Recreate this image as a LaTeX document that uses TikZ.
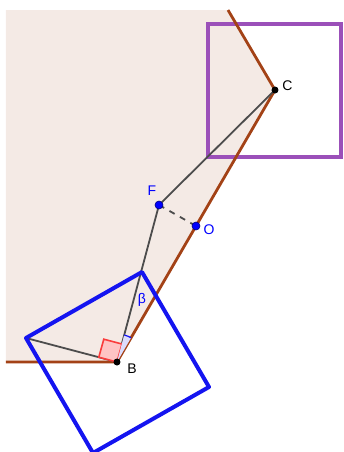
\documentclass[tikz,border=0pt]{standalone}
\usepackage{fontspec}
\setmainfont{Liberation Sans}
\usetikzlibrary{calc,angles}
\definecolor{paleshade}{RGB}{244,234,229}
\definecolor{rust}{RGB}{163,66,22}
\definecolor{purp}{RGB}{155,80,185}
\definecolor{sqblue}{RGB}{20,20,240}
\definecolor{rmark}{RGB}{250,60,60}

\begin{document}
\begin{tikzpicture}[x=0.5pt,y=-0.5pt,every node/.style={font=\fontsize{7}{8}\selectfont},
	dot/.style={circle,fill=black,inner sep=0pt,minimum size=3.5pt},
	bdot/.style={circle,fill=blue,draw=blue!50!black,line width=0.3pt,inner sep=0pt,minimum size=4pt},
	seg/.style={line width=0.9pt,black!70}]
		\useasboundingbox (0,0) rectangle (344,452);
		
		\coordinate (LT)at(6,10);
		\coordinate (T)at(228,10);
		\coordinate (L)at(6,362);
		\coordinate (B)at(117,362);
		\coordinate (C)at(275,90);
		\coordinate (F)at(159,205);
		\coordinate (O)at(196,226);
		
		\coordinate (P1)at(142,272);
		\coordinate (P2)at(26,338);
		\coordinate (P3)at(93,453);
		\coordinate (P4)at(209,387);
		
		\fill[paleshade](LT)--(T)--(C)--(B)--(L)--cycle;
		\draw[purp,line width=2pt](208,24)rectangle(341,157);
		\draw[rust,line width=1.4pt](T)--(C)--(B)--(L);
		
		\draw[seg](C)--(F)--(B)--(P2);
		\draw[seg,dashed](F)--(O);
		
		\coordinate (M1)at($(B)!0.2!(P2)$);
		\coordinate (M2)at($(B)!0.2!(P1)$);
		\draw[draw=rmark,fill=rmark!30,line width=0.8pt](B)--(M1)--($(M1)+(M2)-(B)$)--(M2)--cycle;
		\pic[draw=sqblue,fill=sqblue!15,line width=0.6pt,angle radius=14pt]{angle=C--B--F};
		
		\draw[sqblue,line width=2pt,line join=round](P1)--(P2)--(P3)--(P4)--cycle;
		
		\node[dot](b)at(B){};
		\node[dot](c)at(C){};
		\node[bdot](f)at(F){};
		\node[bdot](o)at(O){};
		
		\node(lc)at(287.5,86){C};
		\node(lb)at(132,369){B};
		\node[blue](lf)at(152,191){F};
		\node[blue](lo)at(209,230){O};
		\node[blue](lbeta)at(142,300){β};
	\end{tikzpicture}
\end{document}
